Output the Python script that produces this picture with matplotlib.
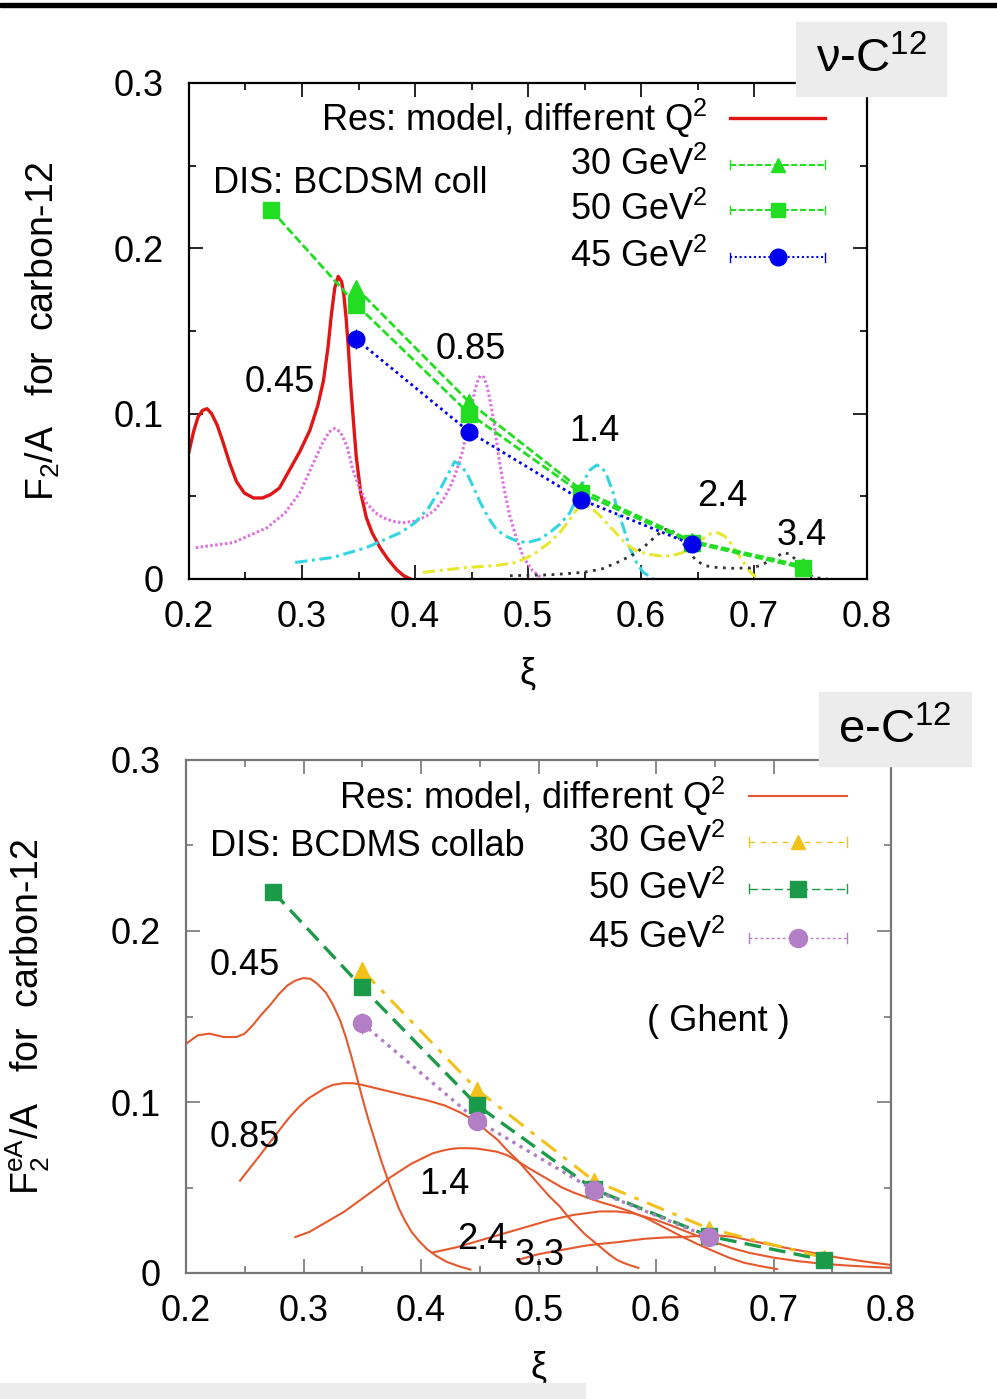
import matplotlib
matplotlib.use("Agg")
import matplotlib.pyplot as plt
from matplotlib.patches import Rectangle
from matplotlib.ticker import MultipleLocator

plt.rcParams["font.family"] = ["Liberation Sans", "DejaVu Sans"]
plt.rcParams["mathtext.fontset"] = "custom"
plt.rcParams["mathtext.rm"] = "Liberation Sans"
plt.rcParams["mathtext.it"] = "Liberation Sans"
plt.rcParams["mathtext.bf"] = "Liberation Sans:bold"

# ---------------- top panel: nu-C12 ----------------
# resonance model curves, one per Q^2 (GeV^2)
nu_res_045_x = [0.200, 0.204, 0.208, 0.212, 0.216, 0.220, 0.225, 0.230, 0.236, 0.242, 0.249, 0.257,
                0.265, 0.272, 0.280, 0.289, 0.298, 0.307, 0.314, 0.319, 0.323, 0.326, 0.329, 0.332,
                0.335, 0.337, 0.339, 0.341, 0.343, 0.345, 0.348, 0.352, 0.357, 0.362, 0.369, 0.376,
                0.384, 0.390, 0.396]
nu_res_045_y = [0.077, 0.089, 0.098, 0.102, 0.103, 0.100, 0.093, 0.083, 0.070, 0.059, 0.052, 0.049,
                0.049, 0.051, 0.055, 0.066, 0.077, 0.090, 0.105, 0.120, 0.140, 0.160, 0.176, 0.183,
                0.180, 0.172, 0.158, 0.140, 0.118, 0.100, 0.074, 0.052, 0.037, 0.028, 0.019, 0.012,
                0.0055, 0.002, 0.0]
nu_res_085_x = [0.206, 0.239, 0.269, 0.285, 0.298, 0.310, 0.318, 0.324, 0.329, 0.334, 0.340, 0.345,
                0.351, 0.357, 0.365, 0.372, 0.380, 0.389, 0.400, 0.410, 0.418, 0.425, 0.432, 0.437,
                0.442, 0.446, 0.450, 0.453, 0.456, 0.458, 0.461, 0.464, 0.467, 0.469, 0.472, 0.475,
                0.479, 0.484, 0.490, 0.496, 0.504, 0.513]
nu_res_085_y = [0.019, 0.022, 0.031, 0.040, 0.052, 0.070, 0.082, 0.089, 0.091, 0.089, 0.080, 0.066,
                0.055, 0.046, 0.040, 0.037, 0.035, 0.034, 0.035, 0.038, 0.042, 0.048, 0.057, 0.066,
                0.077, 0.090, 0.104, 0.114, 0.121, 0.123, 0.122, 0.116, 0.106, 0.098, 0.084, 0.070,
                0.054, 0.038, 0.024, 0.013, 0.005, 0.0]
nu_res_14_x = [0.294, 0.327, 0.357, 0.387, 0.400, 0.412, 0.422, 0.429, 0.435, 0.440, 0.446, 0.452,
               0.458, 0.465, 0.472, 0.480, 0.490, 0.499, 0.510, 0.519, 0.528, 0.537, 0.544, 0.549,
               0.555, 0.561, 0.566, 0.570, 0.575, 0.579, 0.585, 0.590, 0.596, 0.602, 0.611]
nu_res_14_y = [0.010, 0.013, 0.019, 0.028, 0.034, 0.043, 0.054, 0.063, 0.071, 0.069, 0.064, 0.055,
               0.046, 0.037, 0.030, 0.026, 0.023, 0.022, 0.024, 0.028, 0.033, 0.040, 0.050, 0.059,
               0.066, 0.069, 0.067, 0.062, 0.053, 0.042, 0.030, 0.019, 0.010, 0.004, 0.0]
nu_res_24_x = [0.407, 0.446, 0.470, 0.490, 0.505, 0.519, 0.528, 0.535, 0.541, 0.546, 0.551, 0.556,
               0.564, 0.572, 0.579, 0.587, 0.596, 0.606, 0.617, 0.627, 0.637, 0.645, 0.652, 0.660,
               0.668, 0.674, 0.679, 0.685, 0.691, 0.697, 0.702]
nu_res_24_y = [0.004, 0.007, 0.008, 0.010, 0.015, 0.022, 0.028, 0.034, 0.040, 0.044, 0.045, 0.043,
               0.038, 0.032, 0.027, 0.021, 0.017, 0.015, 0.014, 0.014, 0.016, 0.019, 0.023, 0.027,
               0.028, 0.026, 0.022, 0.016, 0.010, 0.004, 0.001]
nu_res_34_x = [0.484, 0.519, 0.549, 0.565, 0.579, 0.591, 0.602, 0.610, 0.617, 0.622, 0.626, 0.631,
               0.637, 0.643, 0.649, 0.657, 0.667, 0.680, 0.697, 0.705, 0.711, 0.719, 0.726, 0.732,
               0.738, 0.745, 0.752, 0.765]
nu_res_34_y = [0.002, 0.0025, 0.004, 0.006, 0.010, 0.014, 0.019, 0.024, 0.028, 0.030, 0.030, 0.027,
               0.022, 0.016, 0.011, 0.008, 0.007, 0.0065, 0.0067, 0.008, 0.010, 0.013, 0.016, 0.015,
               0.011, 0.006, 0.001, 0.0]

# DIS data (BCDMS)
nu_q30_x = [0.348, 0.448, 0.547, 0.645, 0.743]
nu_q30_y = [0.176, 0.107, 0.054, 0.023, 0.008]
nu_q50_x = [0.273, 0.348, 0.448, 0.547, 0.645, 0.743]
nu_q50_y = [0.223, 0.166, 0.100, 0.052, 0.022, 0.0067]
nu_q45_x = [0.348, 0.448, 0.547, 0.645]
nu_q45_y = [0.145, 0.089, 0.048, 0.021]
nu_q45_err = [0.006, 0.004, 0.002, 0.001]

# ---------------- bottom panel: e-C12 ----------------
e_res_045_x = [0.200, 0.210, 0.220, 0.232, 0.243, 0.250, 0.257, 0.264, 0.272, 0.279, 0.286, 0.293,
               0.300, 0.306, 0.312, 0.319, 0.325, 0.331, 0.336, 0.341, 0.346, 0.351, 0.356, 0.361,
               0.366, 0.371, 0.376, 0.381, 0.386, 0.392, 0.398, 0.405, 0.413, 0.422, 0.432, 0.442]
e_res_045_y = [0.134, 0.139, 0.140, 0.138, 0.138, 0.140, 0.145, 0.151, 0.157, 0.163, 0.168, 0.171,
               0.1725, 0.172, 0.169, 0.164, 0.157, 0.148, 0.138, 0.126, 0.113, 0.100, 0.088, 0.077,
               0.066, 0.056, 0.047, 0.038, 0.031, 0.024, 0.019, 0.014, 0.010, 0.0065, 0.004, 0.002]
e_res_085_x = [0.246, 0.254, 0.262, 0.271, 0.280, 0.288, 0.296, 0.304, 0.311, 0.318, 0.325, 0.334,
               0.342, 0.350, 0.368, 0.386, 0.405, 0.420, 0.433, 0.441, 0.448, 0.456, 0.465, 0.473,
               0.482, 0.491, 0.500, 0.509, 0.518, 0.525, 0.532, 0.539, 0.546, 0.553, 0.560, 0.566,
               0.572, 0.578, 0.585]
e_res_085_y = [0.054, 0.061, 0.068, 0.076, 0.084, 0.091, 0.097, 0.102, 0.105, 0.108, 0.110, 0.111,
               0.111, 0.110, 0.107, 0.104, 0.101, 0.098, 0.094, 0.091, 0.088, 0.083, 0.078, 0.072,
               0.066, 0.059, 0.052, 0.045, 0.039, 0.033, 0.028, 0.023, 0.019, 0.015, 0.011, 0.008,
               0.006, 0.0045, 0.003]
e_res_14_x = [0.293, 0.305, 0.315, 0.325, 0.335, 0.345, 0.355, 0.365, 0.374, 0.383, 0.392, 0.401,
              0.410, 0.418, 0.425, 0.432, 0.439, 0.447, 0.455, 0.464, 0.473, 0.481, 0.490, 0.500,
              0.510, 0.520, 0.530, 0.538, 0.546, 0.555, 0.565, 0.578, 0.592, 0.606, 0.620, 0.635,
              0.650, 0.662, 0.675, 0.689, 0.703]
e_res_14_y = [0.021, 0.024, 0.028, 0.032, 0.036, 0.041, 0.046, 0.051, 0.056, 0.060, 0.064, 0.067,
              0.070, 0.0715, 0.0725, 0.073, 0.073, 0.0728, 0.072, 0.071, 0.069, 0.066, 0.062, 0.058,
              0.054, 0.050, 0.047, 0.045, 0.043, 0.041, 0.039, 0.036, 0.032, 0.027, 0.022, 0.017,
              0.0125, 0.009, 0.006, 0.004, 0.0023]
e_res_24_x = [0.410, 0.430, 0.450, 0.470, 0.490, 0.510, 0.530, 0.541, 0.552, 0.566, 0.580, 0.590,
              0.600, 0.612, 0.623, 0.636, 0.650, 0.665, 0.680, 0.700, 0.720, 0.740, 0.760, 0.780,
              0.800]
e_res_24_y = [0.012, 0.015, 0.019, 0.023, 0.027, 0.031, 0.034, 0.035, 0.036, 0.036, 0.035, 0.033,
              0.031, 0.028, 0.025, 0.0215, 0.018, 0.0145, 0.0117, 0.009, 0.007, 0.0055, 0.0045,
              0.0037, 0.003]
e_res_33_x = [0.482, 0.500, 0.520, 0.540, 0.552, 0.567, 0.590, 0.608, 0.623, 0.638, 0.652, 0.666,
              0.680, 0.694, 0.708, 0.724, 0.740, 0.755, 0.770, 0.785, 0.800]
e_res_33_y = [0.0076, 0.011, 0.0135, 0.016, 0.017, 0.018, 0.020, 0.0208, 0.021, 0.0218, 0.022,
              0.0212, 0.019, 0.017, 0.015, 0.013, 0.011, 0.009, 0.0075, 0.006, 0.0047]

e_q30_x = [0.350, 0.448, 0.547, 0.645, 0.743]
e_q30_y = [0.177, 0.107, 0.054, 0.026, 0.009]
e_q50_x = [0.274, 0.350, 0.448, 0.547, 0.645, 0.743]
e_q50_y = [0.223, 0.167, 0.098, 0.049, 0.0216, 0.0076]
e_q45_x = [0.350, 0.448, 0.547, 0.645]
e_q45_y = [0.146, 0.089, 0.0485, 0.021]
e_q45_err = [0.006, 0.004, 0.002, 0.001]

res_labels_nu = ["0.45", "0.85", "1.4", "2.4", "3.4"]
res_labels_e = ["0.45", "0.85", "1.4", "2.4", "3.3"]

W, H = 997, 1399
FS = 26
fig = plt.figure(figsize=(W / 100, H / 100), dpi=100)


def px_axes(x0, y0, x1, y1):
    return fig.add_axes([x0 / W, 1 - y1 / H, (x1 - x0) / W, (y1 - y0) / H])


def style_axes(ax, spine_col):
    ax.set_xlim(0.2, 0.8)
    ax.set_ylim(0, 0.3)
    ax.xaxis.set_major_locator(MultipleLocator(0.1))
    ax.xaxis.set_minor_locator(MultipleLocator(0.05))
    ax.yaxis.set_major_locator(MultipleLocator(0.1))
    ax.yaxis.set_minor_locator(MultipleLocator(0.05))
    ax.tick_params(which="both", direction="in", top=True, right=True, color=spine_col,
                   labelsize=FS, width=1.2)
    ax.tick_params(which="major", length=10)
    ax.tick_params(which="minor", length=5)
    ax.tick_params(axis="x", pad=15)
    ax.tick_params(axis="y", pad=18)
    ax.xaxis.set_major_formatter(lambda v, p: "0" if abs(v) < 1e-9 else f"{v:.1f}")
    ax.yaxis.set_major_formatter(lambda v, p: "0" if abs(v) < 1e-9 else f"{v:.1f}")
    for s in ax.spines.values():
        s.set_color(spine_col)
        s.set_linewidth(1.6)


def legend_row(ax, fy, label, color, ls, lw, marker=None, ms=10, caps=True):
    x0, x1, xt = 0.798, 0.938, 0.765
    ax.plot([x0, x1], [fy, fy], transform=ax.transAxes, color=color, ls=ls, lw=lw, clip_on=False)
    if caps:
        for xc in (x0, x1):
            ax.plot([xc, xc], [fy - 0.009, fy + 0.009], transform=ax.transAxes, color=color,
                    lw=1, clip_on=False)
    if marker:
        ax.plot([(x0 + x1) / 2], [fy], transform=ax.transAxes, color=color, marker=marker,
                ms=ms, ls="none", clip_on=False)
    ax.text(xt, fy, label, transform=ax.transAxes, ha="right", va="center", fontsize=FS)


# ---------- top ----------
ax1 = px_axes(189, 83, 867, 579)
style_axes(ax1, "black")

c_red, c_mag, c_cyan, c_yel, c_blk = "#e01515", "#e070e0", "#33d6e0", "#e8e830", "#333333"
c_grn, c_blue = "#22dd22", "#0000ee"

ax1.plot(nu_res_045_x, nu_res_045_y, color=c_red, lw=2.4)
ax1.plot(nu_res_085_x, nu_res_085_y, color=c_mag, lw=2.2, ls=(0, (0.8, 0.8)))
ax1.plot(nu_res_14_x, nu_res_14_y, color=c_cyan, lw=2.2, ls=(0, (4, 1.5, 1, 1.5)))
ax1.plot(nu_res_24_x, nu_res_24_y, color=c_yel, lw=2.2, ls=(0, (4, 1.5, 1, 1.5)))
ax1.plot(nu_res_34_x, nu_res_34_y, color=c_blk, lw=2.0, ls=(0, (1, 2)))

ax1.errorbar(nu_q30_x, nu_q30_y, yerr=0.002, color=c_grn, ls=(0, (3, 1.2)), lw=2,
             marker="^", ms=11, capsize=0, elinewidth=1)
ax1.errorbar(nu_q50_x, nu_q50_y, yerr=0.002, color=c_grn, ls=(0, (3, 1.2)), lw=2,
             marker="s", ms=11, capsize=0, elinewidth=1)
ax1.errorbar(nu_q45_x, nu_q45_y, yerr=nu_q45_err, color=c_blue, ls=(0, (1, 1.3)), lw=2,
             marker="o", ms=12, capsize=0, elinewidth=1)

for lab, x, y in zip(res_labels_nu, [0.280, 0.4496, 0.559, 0.672, 0.742],
                     [0.119, 0.139, 0.0895, 0.0496, 0.0266]):
    ax1.text(x, y, lab, ha="center", va="center", fontsize=FS)

legend_row(ax1, 0.929, "Res: model, different Q$^2$", c_red, "-", 2.4, caps=False)
legend_row(ax1, 0.835, "30 GeV$^2$", c_grn, (0, (3, 1.2)), 1.5, "^", 10)
legend_row(ax1, 0.744, "50 GeV$^2$", c_grn, (0, (3, 1.2)), 1.5, "s", 10)
legend_row(ax1, 0.649, "45 GeV$^2$", c_blue, (0, (1, 1.3)), 1.5, "o", 12)
ax1.text(0.035, 0.798, "DIS: BCDSM coll", transform=ax1.transAxes, ha="left", va="center",
         fontsize=FS)

ax1.set_xlabel("ξ", fontsize=FS, labelpad=16)
ax1.set_ylabel("F$_2$/A   for  carbon-12", fontsize=27, labelpad=37)

# ---------- bottom ----------
ax2 = px_axes(186, 760, 891, 1273)
style_axes(ax2, "#777777")

c_or, c_gold, c_dgrn, c_pur = "#e5592d", "#f2c21a", "#1b9a4a", "#b27ec6"
for xs, ys in [(e_res_045_x, e_res_045_y), (e_res_085_x, e_res_085_y), (e_res_14_x, e_res_14_y),
               (e_res_24_x, e_res_24_y), (e_res_33_x, e_res_33_y)]:
    ax2.plot(xs, ys, color=c_or, lw=1.5)

ax2.errorbar(e_q30_x, e_q30_y, yerr=0.002, color=c_gold, ls=(0, (6, 3, 1.5, 3)), lw=2.2,
             marker="^", ms=11, capsize=0, elinewidth=1)
ax2.errorbar(e_q50_x, e_q50_y, yerr=0.002, color=c_dgrn, ls=(0, (5, 2.5)), lw=2.4,
             marker="s", ms=12, capsize=0, elinewidth=1)
ax2.errorbar(e_q45_x, e_q45_y, yerr=e_q45_err, color=c_pur, ls=(0, (1, 1.5)), lw=2.4,
             marker="o", ms=13, capsize=0, elinewidth=1)

for lab, x, y in zip(res_labels_e, [0.250, 0.250, 0.420, 0.452, 0.501],
                     [0.180, 0.0795, 0.052, 0.0193, 0.0105]):
    ax2.text(x, y, lab, ha="center", va="center", fontsize=FS)

legend_row(ax2, 0.930, "Res: model, different Q$^2$", c_or, "-", 1.5, caps=False)
legend_row(ax2, 0.840, "30 GeV$^2$", c_gold, (0, (4, 4)), 1.0, "^", 10)
legend_row(ax2, 0.749, "50 GeV$^2$", c_dgrn, (0, (6, 3)), 1.0, "s", 11)
legend_row(ax2, 0.653, "45 GeV$^2$", c_pur, (0, (2, 2)), 1.0, "o", 13)
ax2.text(0.034, 0.832, "DIS: BCDMS collab", transform=ax2.transAxes, ha="left", va="center",
         fontsize=FS)
ax2.text(0.755, 0.491, "( Ghent )", transform=ax2.transAxes, ha="center", va="center",
         fontsize=FS)

ax2.set_xlabel("ξ", fontsize=FS, labelpad=16)
ax2.set_ylabel("F$_2^{eA}$/A   for  carbon-12", fontsize=27, labelpad=42)

# ---------- decorations ----------
fig.patches.append(Rectangle((0, 1 - 7 / H), 1, 4 / H, transform=fig.transFigure,
                             color="black", zorder=5))
fig.patches.append(Rectangle((796 / W, 1 - 96 / H), 150 / W, 74 / H, transform=fig.transFigure,
                             color="#ececec", zorder=5))
fig.text(871 / W, 1 - 60 / H, "ν-C$^{12}$", ha="center", va="center", fontsize=34, zorder=6)
fig.patches.append(Rectangle((819 / W, 1 - 766 / H), 152 / W, 74 / H, transform=fig.transFigure,
                             color="#ececec", zorder=5))
fig.text(895 / W, 1 - 731 / H, "e-C$^{12}$", ha="center", va="center", fontsize=34, zorder=6)
fig.patches.append(Rectangle((0, 0), 585 / W, 16 / H, transform=fig.transFigure,
                             color="#ececec", zorder=5))

fig.savefig("out.png", dpi=100)
